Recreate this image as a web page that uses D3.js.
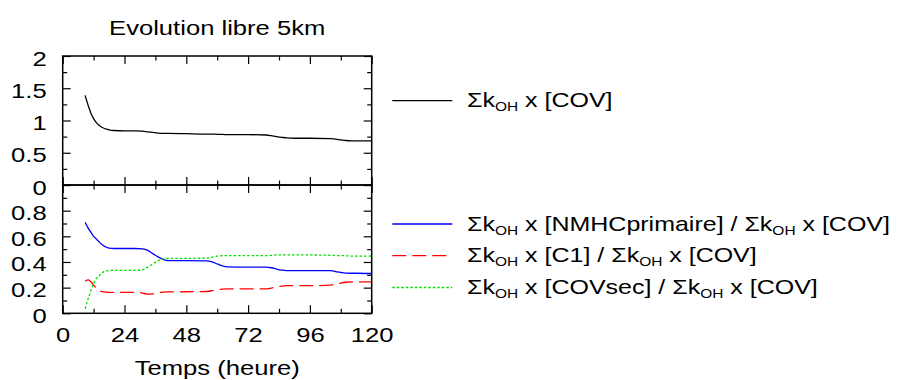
<!DOCTYPE html>
<html><head><meta charset="utf-8">
<script src="https://cdn.jsdelivr.net/npm/d3@7"></script>
<style>body{margin:0;background:#fff}svg{display:block}text{font-family:"Liberation Sans",Arial,sans-serif;fill:#000}</style>
</head><body>
<script>
const title = "Evolution libre 5km";
const xLabel = "Temps (heure)";
const hours = [8.7,10,11,12,13,14,15,16,17,18,20,24,28,31,33,35,37,39,41,48,56,58,60,62,64,72,79,81,83,85,87,90,96,104,106,108,110,112,114,120];
const totalCOV = [1.39,1.22,1.11,1.03,0.97,0.93,0.90,0.88,0.865,0.855,0.845,0.84,0.84,0.835,0.825,0.815,0.805,0.80,0.80,0.795,0.79,0.79,0.785,0.785,0.78,0.78,0.775,0.765,0.75,0.74,0.73,0.725,0.725,0.72,0.71,0.70,0.69,0.685,0.685,0.685];
const fracNMHC = [0.71,0.66,0.63,0.60,0.58,0.56,0.54,0.525,0.515,0.508,0.505,0.505,0.505,0.502,0.49,0.465,0.44,0.42,0.41,0.41,0.408,0.40,0.385,0.37,0.362,0.36,0.36,0.355,0.345,0.337,0.333,0.332,0.332,0.332,0.325,0.318,0.313,0.312,0.312,0.31];
const fracC1 = [0.25,0.26,0.245,0.22,0.195,0.178,0.17,0.167,0.165,0.163,0.163,0.163,0.163,0.158,0.15,0.152,0.16,0.165,0.167,0.168,0.17,0.176,0.183,0.188,0.19,0.19,0.19,0.197,0.205,0.212,0.215,0.215,0.215,0.22,0.228,0.236,0.242,0.245,0.245,0.245];
const fracCOVsec = [0.035,0.12,0.18,0.23,0.27,0.29,0.31,0.325,0.33,0.333,0.335,0.335,0.335,0.34,0.36,0.385,0.41,0.425,0.428,0.428,0.43,0.437,0.445,0.449,0.45,0.45,0.45,0.452,0.455,0.456,0.456,0.456,0.455,0.452,0.45,0.45,0.448,0.446,0.445,0.445];
const xTicks = [0,24,48,72,96,120];
const topTicks = [0,0.5,1,1.5,2];
const botTicks = [0,0.2,0.4,0.6,0.8];
const legendTop = [{pre:"[COV]", post:null}];
const legendBot = [
  {a:"[NMHCprimaire]", color:"#0000ff", dash:null},
  {a:"[C1]", color:"#ff0000", dash:"14,6"},
  {a:"[COVsec]", color:"#00e000", dash:"2.5,2"}
];

const SX = 1.22, LSX = 1.19, FS = 21;
const W = 900, H = 380;
const L = 62.7, R = 371.7, T1 = 56, B1 = 185, T2 = 185, B2 = 313.3;
const svg = d3.select("body").append("svg").attr("width", W).attr("height", H);

const x = d3.scaleLinear().domain([0,120]).range([L,R]);
const yTop = d3.scaleLinear().domain([0,2]).range([B1,T1]);
const yBot = d3.scaleLinear().domain([0,1]).range([B2,T2]);

function stretchText(sel){
  sel.each(function(){
    const t = d3.select(this);
    const xv = +t.attr("x") || 0;
    t.attr("x", xv/SX).attr("transform", `scale(${SX},1)`);
  });
}
function label(g, txt, px, py, anchor){
  return g.append("text").attr("transform",`translate(${px},${py}) scale(${SX},1)`)
    .attr("text-anchor",anchor||"start").attr("font-size",FS).text(txt);
}

function panel(y, top, bottom, majors, minors, labelsY, showX){
  const g = svg.append("g");
  const strip = s => s.select(".domain").remove();
  g.append("g").attr("transform",`translate(${L},0)`)
    .call(d3.axisLeft(y).tickValues(minors).tickSize(-4.5).tickFormat(""))
    .call(strip);
  const la = g.append("g").attr("transform",`translate(${L},0)`)
    .call(d3.axisLeft(y).tickValues(majors).tickSize(-8).tickPadding(16).tickFormat(d => labelsY.includes(d) ? String(d) : ""))
    .call(strip);
  la.selectAll("text").attr("font-size",FS).attr("font-family","Liberation Sans, Arial, sans-serif").attr("fill","#000").attr("dy",null).attr("y",9).call(stretchText);
  g.append("g").attr("transform",`translate(${R},0)`)
    .call(d3.axisRight(y).tickValues(minors).tickSize(-4.5).tickFormat("")).call(strip);
  g.append("g").attr("transform",`translate(${R},0)`)
    .call(d3.axisRight(y).tickValues(majors).tickSize(-8).tickFormat("")).call(strip);
  g.append("g").attr("transform",`translate(0,${top})`)
    .call(d3.axisTop(x).tickValues(d3.range(12,120,24)).tickSize(-4.5).tickFormat("")).call(strip);
  g.append("g").attr("transform",`translate(0,${top})`)
    .call(d3.axisTop(x).tickValues(xTicks).tickSize(-8).tickFormat("")).call(strip);
  g.append("g").attr("transform",`translate(0,${bottom})`)
    .call(d3.axisBottom(x).tickValues(d3.range(12,120,24)).tickSize(-4.5).tickFormat("")).call(strip);
  const ba = g.append("g").attr("transform",`translate(0,${bottom})`)
    .call(d3.axisBottom(x).tickValues(xTicks).tickSize(-8).tickFormat(showX ? (d=>String(d)) : ""))
    .call(strip);
  ba.selectAll("text").attr("font-size",FS).attr("font-family","Liberation Sans, Arial, sans-serif").attr("fill","#000").attr("dy",null).attr("y",29).call(stretchText);
  g.selectAll(".tick line").attr("stroke","#000").attr("stroke-width",1.2);
  g.append("rect").attr("x",L).attr("y",top).attr("width",R-L).attr("height",bottom-top)
    .attr("fill","none").attr("stroke","#000").attr("stroke-width",1.5);
  return g;
}

const linesG = svg.append("g");
const lineTop = d3.line().x((d,i)=>x(hours[i])).y(d=>yTop(d)).curve(d3.curveMonotoneX);
const lineBot = d3.line().x((d,i)=>x(hours[i])).y(d=>yBot(d)).curve(d3.curveMonotoneX);
linesG.append("path").datum(totalCOV).attr("d",lineTop).attr("fill","none").attr("stroke","#000").attr("stroke-width",1.3);
const botSeries = [fracNMHC, fracC1, fracCOVsec];
botSeries.forEach((s,i)=>{
  linesG.append("path").datum(s).attr("d",lineBot).attr("fill","none")
    .attr("stroke",legendBot[i].color).attr("stroke-width",1.3)
    .attr("stroke-dasharray",legendBot[i].dash);
});

panel(yTop, T1, B1, d3.range(0,2.01,0.5).map(v=>+v.toFixed(2)), d3.range(0.25,2,0.5).map(v=>+v.toFixed(2)), topTicks, false);
panel(yBot, T2, B2, d3.range(0,1.01,0.2).map(v=>+v.toFixed(2)), d3.range(0.1,1,0.2).map(v=>+v.toFixed(2)), botTicks, true);

label(svg, title, (L+R)/2, 35, "middle");
label(svg, xLabel, (L+R)/2, 375, "middle");

function sumK(t){
  t.append("tspan").text("Σk");
  t.append("tspan").attr("font-size",13).attr("dy",4).text("OH");
}
function legendText(px, py, parts){
  const t = svg.append("text").attr("transform",`translate(${px},${py}) scale(${LSX},1)`).attr("font-size",FS);
  sumK(t);
  t.append("tspan").attr("dy",-4).text(" x " + parts[0]);
  if (parts.length > 1){
    t.append("tspan").text(" / ");
    sumK(t);
    t.append("tspan").attr("dy",-4).text(" x " + parts[1]);
  }
}
const lx1 = 392.3, lx2 = 452.3, tx = 467;
const lyTop = 100.7;
svg.append("line").attr("x1",lx1).attr("x2",lx2).attr("y1",lyTop).attr("y2",lyTop).attr("stroke","#000").attr("stroke-width",1.3);
legendText(tx, lyTop+6.6, legendTop.map(d=>d.pre));
const lyBot = [224, 255.7, 287.5];
legendBot.forEach((d,i)=>{
  svg.append("line").attr("x1",lx1).attr("x2",lx2).attr("y1",lyBot[i]).attr("y2",lyBot[i])
    .attr("stroke",d.color).attr("stroke-width",1.3).attr("stroke-dasharray",d.dash);
  legendText(tx, lyBot[i]+6.6, [d.a, "[COV]"]);
});
</script>
</body></html>
